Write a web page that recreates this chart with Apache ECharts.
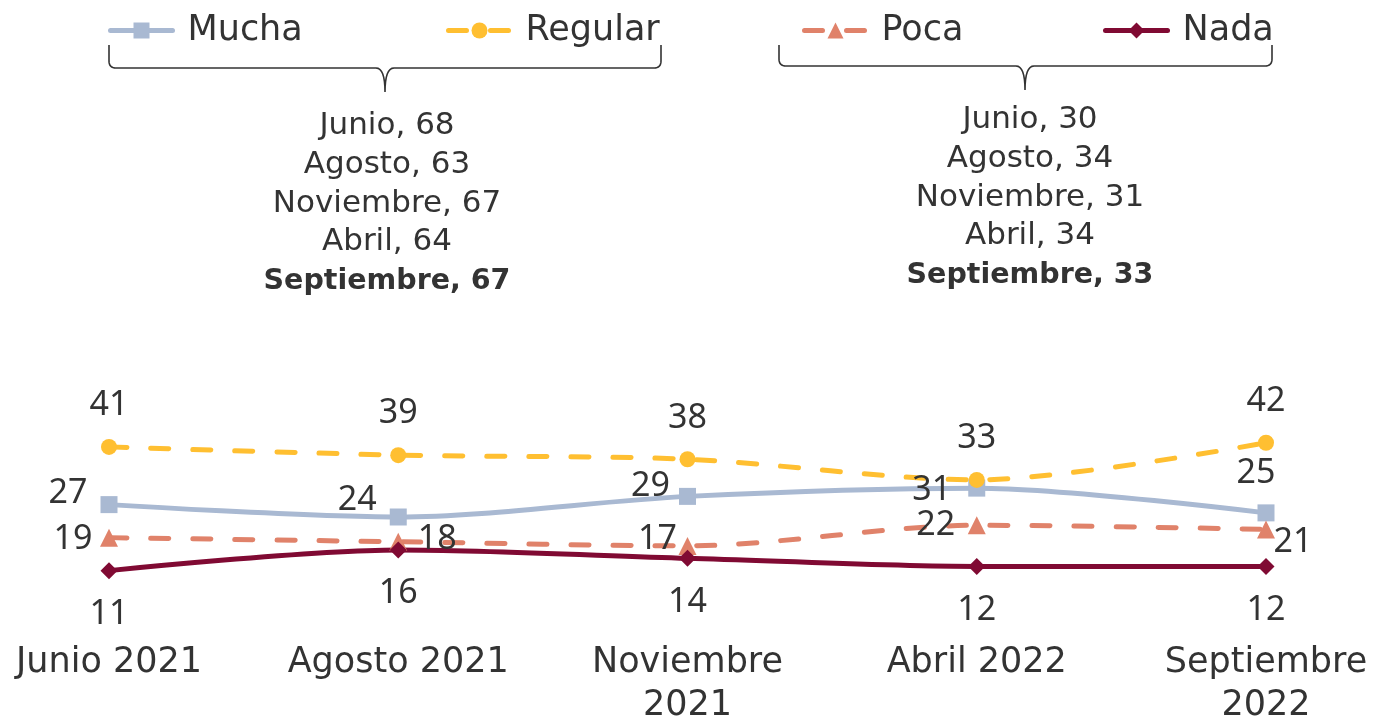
<!DOCTYPE html>
<html>
<head>
<meta charset="utf-8">
<script src="https://cdn.jsdelivr.net/npm/echarts@6/dist/echarts.min.js"></script>
<style>
  html, body { margin: 0; padding: 0; background: #fff; }
  #box { width: 1381px; height: 725px; }
</style>
</head>
<body>
<div id="box"></div>
<script>
// datos
const categories = ["Junio 2021", "Agosto 2021", "Noviembre\n2021", "Abril 2022", "Septiembre\n2022"];
const mucha = [27, 24, 29, 31, 25];
const regular = [41, 39, 38, 33, 42];
const poca = [19, 18, 17, 22, 21];
const nada = [11, 16, 14, 12, 12];

// resumen de las llaves
const meses = ["Junio", "Agosto", "Noviembre", "Abril", "Septiembre"];
const muchaRegular = [68, 63, 67, 64, 67];
const pocaNada = [30, 34, 31, 34, 33];

// desplazamiento de cada etiqueta respecto al punto
const offMucha = [[-41, -11], [-41, -17], [-37, -10], [-45, 2], [-10, -40]];
const offRegular = [[0, -42], [0, -42], [0, -41], [0, -42], [0, -41]];
const offPoca = [[-36, 2], [39, -2], [-30, -7], [-41, 0], [27, 13]];
const offNada = [[0, 44], [0, 43], [0, 44], [0, 44], [0, 44]];

const FONT = "DejaVu Sans";
const NUM_FONT = "Noto Sans";
const TXT = "#333333";

function withLabels(values, offsets) {
  return values.map((v, i) => ({
    value: v,
    label: { offset: offsets[i] }
  }));
}

function resumen(values) {
  let lines = meses.map((m, i) => m + ", " + values[i]);
  let last = lines.pop();
  return lines.map(l => "{n|" + l + "}").join("\n") + "\n{b|" + last + "}";
}

// curva cuadratica como lista de puntos
function quad(p0, c, p1) {
  let pts = [];
  for (let k = 1; k <= 8; k++) {
    let t = k / 8;
    pts.push([
      (1 - t) * (1 - t) * p0[0] + 2 * (1 - t) * t * c[0] + t * t * p1[0],
      (1 - t) * (1 - t) * p0[1] + 2 * (1 - t) * t * c[1] + t * t * p1[1]
    ]);
  }
  return pts;
}

// llave horizontal con punta hacia abajo
function llave(x0, x1, xm, top, y, tip) {
  let r = 7;
  let pts = [[x0, top], [x0, y - r]];
  pts = pts.concat(quad([x0, y - r], [x0, y], [x0 + r, y]));
  pts.push([xm - 9, y]);
  pts = pts.concat(quad([xm - 9, y], [xm, y], [xm, tip]));
  pts = pts.concat(quad([xm, tip], [xm, y], [xm + 9, y]));
  pts.push([x1 - r, y]);
  pts = pts.concat(quad([x1 - r, y], [x1, y], [x1, y - r]));
  pts.push([x1, top]);
  return {
    type: "polyline",
    shape: { points: pts },
    style: { fill: null, stroke: "#333", lineWidth: 1.6 }
  };
}

function serie(name, values, offsets, color, symbol, size, dashed) {
  return {
    name: name,
    type: "line",
    smooth: 0.3,
    data: withLabels(values, offsets),
    symbol: symbol,
    symbolSize: size,
    itemStyle: { color: color },
    lineStyle: {
      color: color,
      width: 5,
      type: dashed ? [18, 24] : "solid",
      cap: "round"
    },
    label: {
      show: true,
      position: "inside",
      fontFamily: NUM_FONT,
      fontSize: 34,
      color: TXT
    }
  };
}

function leyenda(name, left) {
  return {
    data: [name],
    left: left,
    top: 8,
    itemWidth: 62,
    itemHeight: 20,
    lineStyle: { width: 5, cap: "round" },
    textStyle: { fontFamily: FONT, fontSize: 35, color: TXT, padding: [0, 0, 0, 10] }
  };
}

const rich = {
  n: { fontFamily: FONT, fontSize: 31, lineHeight: 38.7, color: TXT },
  b: { fontFamily: FONT, fontSize: 28.5, lineHeight: 38.7, fontWeight: "bold", color: TXT }
};

let myChart = echarts.init(document.getElementById("box"));
let option = {
  animation: false,
  legend: [
    leyenda("Mucha", 103),
    leyenda("Regular", 441),
    leyenda("Poca", 797),
    leyenda("Nada", 1098)
  ],
  grid: { left: 109, right: 115, top: 203.5, bottom: 109, outerBoundsMode: "none" },
  xAxis: {
    type: "category",
    boundaryGap: false,
    data: categories,
    axisLine: { show: false },
    axisTick: { show: false },
    axisLabel: {
      interval: 0,
      margin: 25,
      fontFamily: FONT,
      fontSize: 35,
      lineHeight: 43,
      color: TXT
    }
  },
  yAxis: {
    type: "value",
    min: 0,
    max: 100,
    show: false,
    splitLine: { show: false }
  },
  series: [
    serie("Mucha", mucha, offMucha, "#A9B9D2", "rect", 17, false),
    serie("Regular", regular, offRegular, "#FFBF31", "circle", 16, true),
    serie("Poca", poca, offPoca, "#E0826A", "triangle", 18, true),
    serie("Nada", nada, offNada, "#800A33", "diamond", [17, 17], false)
  ],
  graphic: [
    llave(109, 661, 385, 45, 68, 92),
    llave(779, 1272, 1025, 45, 66, 90),
    {
      type: "text",
      x: 387,
      y: 107,
      style: {
        text: resumen(muchaRegular),
        align: "center",
        verticalAlign: "top",
        fill: TXT,
        rich: rich
      }
    },
    {
      type: "text",
      x: 1030,
      y: 101,
      style: {
        text: resumen(pocaNada),
        align: "center",
        verticalAlign: "top",
        fill: TXT,
        rich: rich
      }
    }
  ]
};
myChart.setOption(option);
</script>
</body>
</html>
